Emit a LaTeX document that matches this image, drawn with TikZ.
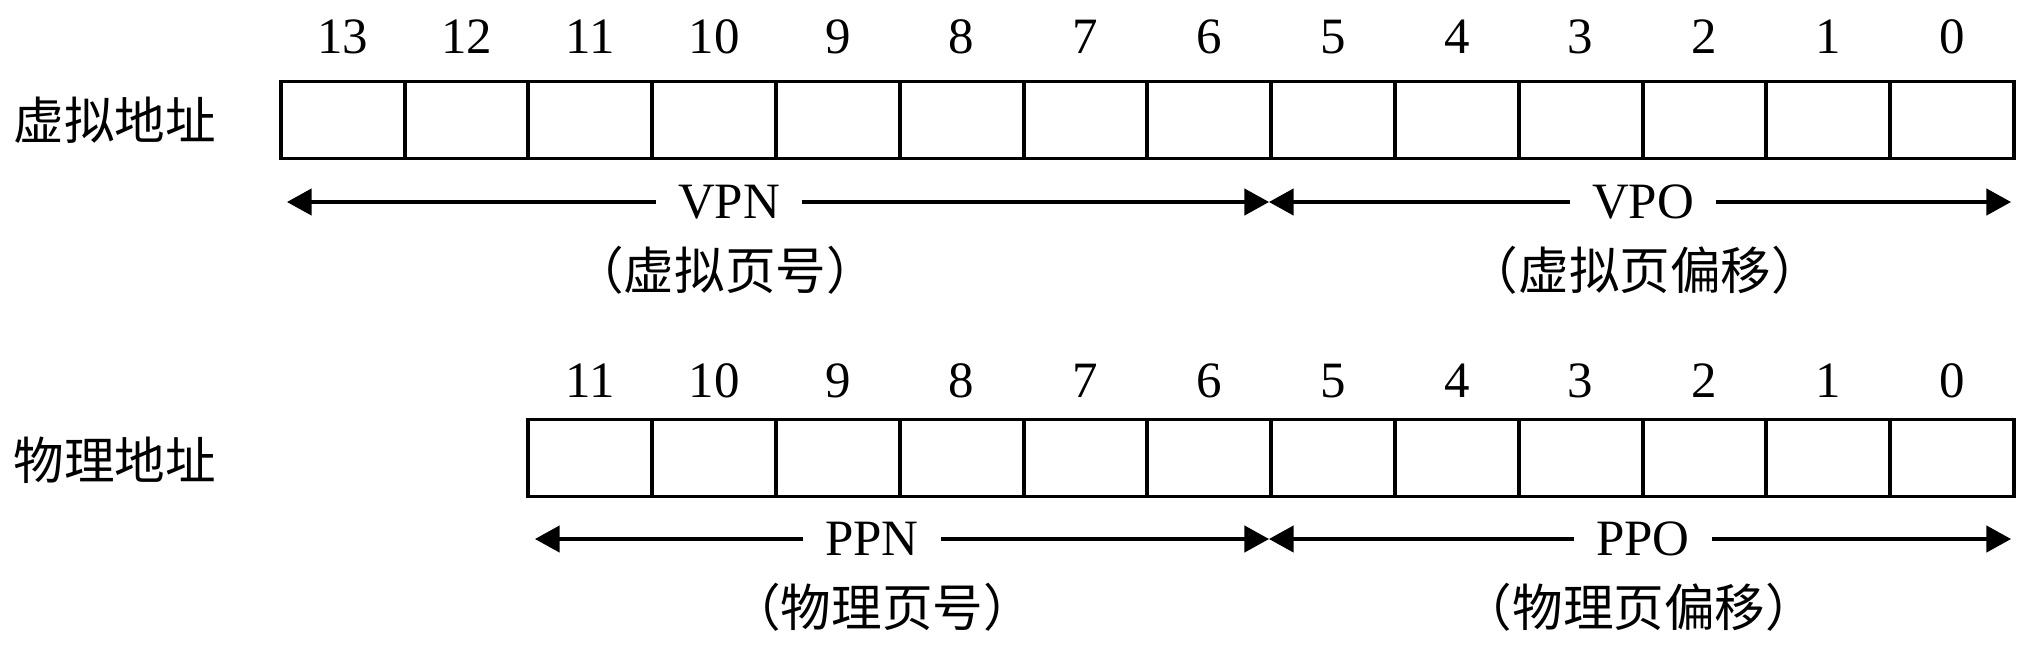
\documentclass[tikz,border=0pt]{standalone}
\usepackage{fontspec}
\setmainfont{Liberation Serif}
\newfontfamily\cjk{Noto Sans CJK SC}
\usetikzlibrary{arrows.meta, positioning}
\tikzset{>={Triangle[length=7pt,width=7.5pt]},
bitcell/.style={draw, line width=1.1pt, minimum width=1.238cm, minimum height=0.77cm, inner sep=0pt, outer sep=0pt},
bitnum/.style={font=\fontsize{14.5}{16}\selectfont, inner sep=0pt},
field/.style={font=\fontsize{14.5}{16}\selectfont, inner sep=6pt},
addr/.style={font=\fontsize{14.4}{17}\selectfont\cjk, anchor=west, inner sep=0pt},
span/.style={->, line width=0.9pt},
}

\begin{document}
\begin{tikzpicture}
    \useasboundingbox (0,0) rectangle (20.38,6.54);
    % virtual address
    \node[addr] (vaddr) at (0.13,5.34) {虚拟地址};
    \foreach \b in {0,...,13} {
        \node[bitcell] (v\b) at ({19.521-1.238*\b},5.34) {};
        \node[bitnum] (vn\b) at ({19.521-1.238*\b},6.17) {\b};
    }
    \coordinate (vl) at (2.87,4.52);
    \coordinate (vm) at (12.69,4.52);
    \coordinate (vr) at (20.11,4.52);
    \node[field] (vpn) at (7.29,4.52) {VPN};
    \node[field] (vpo) at (16.43,4.52) {VPO};
    \draw[span] (vpn) -- (vl);
    \draw[span] (vpn) -- (vm);
    \draw[span] (vpo) -- (vm);
    \draw[span] (vpo) -- (vr);
    \node[field, font=\fontsize{14.4}{17}\selectfont\cjk] (vpnzh) at (7.25,3.84) {（虚拟页号）};
    \node[field, font=\fontsize{14.4}{17}\selectfont\cjk] (vpozh) at (16.45,3.84) {（虚拟页偏移）};

    % physical address
    \node[addr] (paddr) at (0.13,1.94) {物理地址};
    \foreach \b in {0,...,11} {
        \node[bitcell] (p\b) at ({19.521-1.238*\b},1.96) {};
        \node[bitnum] (pn\b) at ({19.521-1.238*\b},2.73) {\b};
    }
    \coordinate (pl) at (5.35,1.15);
    \coordinate (pm) at (12.69,1.15);
    \coordinate (pr) at (20.11,1.15);
    \node[field] (ppn) at (8.72,1.15) {PPN};
    \node[field] (ppo) at (16.43,1.15) {PPO};
    \draw[span] (ppn) -- (pl);
    \draw[span] (ppn) -- (pm);
    \draw[span] (ppo) -- (pm);
    \draw[span] (ppo) -- (pr);
    \node[field, font=\fontsize{14.4}{17}\selectfont\cjk] (ppnzh) at (8.82,0.47) {（物理页号）};
    \node[field, font=\fontsize{14.4}{17}\selectfont\cjk] (ppozh) at (16.39,0.47) {（物理页偏移）};
\end{tikzpicture}
\end{document}
